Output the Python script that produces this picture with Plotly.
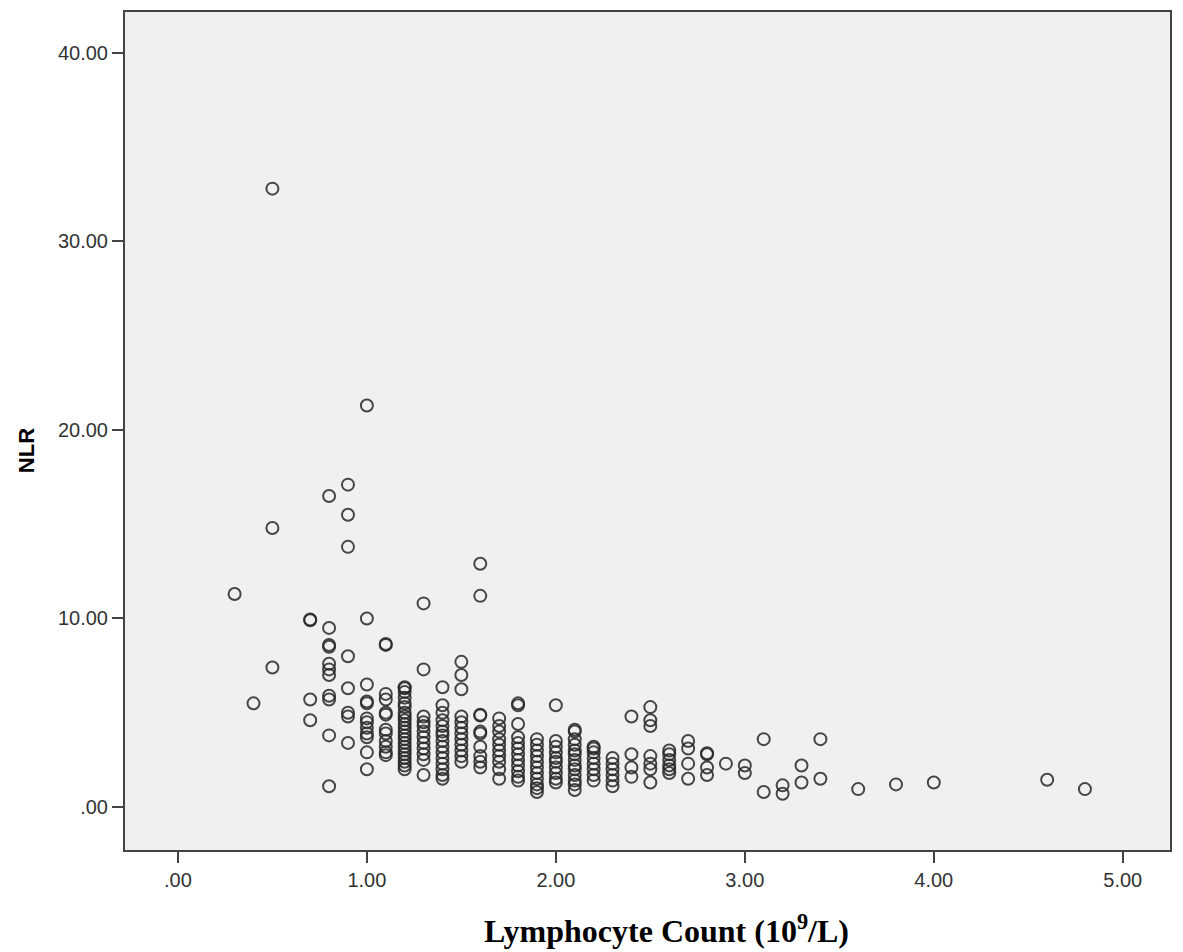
import plotly.graph_objects as go

# Lymphocyte count (10^9/L) and neutrophil-to-lymphocyte ratio, paired per patient
lymphocyte = (
    [0.3]
    + [0.4]
    + [0.5] * 3
    + [0.7] * 4
    + [0.8] * 11
    + [0.9] * 8
    + [1.0] * 12
    + [1.1] * 12
    + [1.2] * 22
    + [1.3] * 12
    + [1.4] * 15
    + [1.5] * 12
    + [1.6] * 10
    + [1.7] * 10
    + [1.8] * 12
    + [1.9] * 11
    + [2.0] * 10
    + [2.1] * 13
    + [2.2] * 8
    + [2.3] * 6
    + [2.4] * 4
    + [2.5] * 7
    + [2.6] * 6
    + [2.7] * 4
    + [2.8] * 4
    + [2.9]
    + [3.0] * 2
    + [3.1] * 2
    + [3.2] * 2
    + [3.3] * 2
    + [3.4] * 2
    + [3.6, 3.8, 4.0, 4.6, 4.8]
)

nlr = [
    11.3,
    5.5,
    32.8, 14.8, 7.4,
    9.95, 9.9, 5.7, 4.6,
    16.5, 9.5, 8.6, 8.5, 7.6, 7.3, 7.0, 5.9, 5.7, 3.8, 1.1,
    17.1, 15.5, 13.8, 8.0, 6.3, 5.0, 4.8, 3.4,
    21.3, 10.0, 6.5, 5.6, 5.5, 4.7, 4.5, 4.2, 3.9, 3.7, 2.9, 2.0,
    8.65, 8.6, 6.0, 5.7, 5.0, 4.9, 4.1, 3.9, 3.5, 3.2, 2.9, 2.75,
    6.35, 6.3, 6.1, 5.8, 5.5, 5.3, 5.0, 4.8, 4.6, 4.4, 4.2, 4.0, 3.8, 3.6, 3.4,
    3.2, 3.0, 2.8, 2.6, 2.4, 2.2, 2.0,
    10.8, 7.3, 4.8, 4.5, 4.3, 4.0, 3.7, 3.4, 3.1, 2.8, 2.5, 1.7,
    6.35, 5.4, 5.0, 4.6, 4.3, 4.0, 3.8, 3.5, 3.2, 2.9, 2.6, 2.3, 2.0, 1.7, 1.5,
    7.7, 7.0, 6.25, 4.8, 4.5, 4.2, 3.9, 3.6, 3.3, 3.0, 2.7, 2.4,
    12.9, 11.2, 4.9, 4.85, 4.0, 3.9, 3.2, 2.7, 2.4, 2.1,
    4.7, 4.3, 4.0, 3.6, 3.3, 3.0, 2.7, 2.4, 2.0, 1.5,
    5.5, 5.4, 4.4, 3.7, 3.4, 3.1, 2.8, 2.5, 2.2, 1.9, 1.6, 1.4,
    3.6, 3.3, 3.0, 2.7, 2.4, 2.1, 1.8, 1.5, 1.2, 1.0, 0.8,
    5.4, 3.5, 3.2, 2.9, 2.6, 2.4, 2.1, 1.8, 1.5, 1.3,
    4.1, 4.0, 3.6, 3.3, 3.0, 2.8, 2.5, 2.2, 2.0, 1.7, 1.4, 1.2, 0.9,
    3.2, 3.1, 2.9, 2.6, 2.3, 2.0, 1.7, 1.4,
    2.6, 2.3, 2.0, 1.7, 1.4, 1.1,
    4.8, 2.8, 2.1, 1.6,
    5.3, 4.6, 4.3, 2.7, 2.3, 2.0, 1.3,
    3.0, 2.8, 2.5, 2.2, 2.0, 1.8,
    3.5, 3.1, 2.3, 1.5,
    2.85, 2.8, 2.1, 1.7,
    2.3,
    2.2, 1.8,
    3.6, 0.8,
    1.15, 0.7,
    2.2, 1.3,
    3.6, 1.5,
    0.95, 1.2, 1.3, 1.45, 0.95,
]

x_ticks = [0, 1, 2, 3, 4, 5]
x_tick_text = [".00", "1.00", "2.00", "3.00", "4.00", "5.00"]
y_ticks = [0, 10, 20, 30, 40]
y_tick_text = [".00", "10.00", "20.00", "30.00", "40.00"]

fig = go.Figure(
    go.Scatter(
        x=lymphocyte,
        y=nlr,
        mode="markers",
        marker=dict(
            symbol="circle-open",
            size=12,
            color="rgba(40,40,40,0.85)",
            line=dict(width=2),
        ),
        hoverinfo="x+y",
    )
)

axis_common = dict(
    showgrid=False,
    zeroline=False,
    showline=True,
    linecolor="#444444",
    linewidth=2,
    mirror=True,
    ticks="outside",
    ticklen=11,
    tickwidth=2,
    tickcolor="#444444",
    tickfont=dict(family="Arial, Liberation Sans, sans-serif", size=20, color="#333333"),
)

fig.update_layout(
    width=1183,
    height=952,
    margin=dict(l=125, r=13, t=10, b=102),
    paper_bgcolor="white",
    plot_bgcolor="#f0f0f0",
    showlegend=False,
    xaxis=dict(
        range=[-0.28, 5.25],
        tickvals=x_ticks,
        ticktext=x_tick_text,
        **axis_common,
    ),
    yaxis=dict(
        range=[-2.28, 42.17],
        tickvals=y_ticks,
        ticktext=y_tick_text,
        **axis_common,
    ),
    annotations=[
        dict(
            text="<b>Lymphocyte Count (10<sup>9</sup>/L)</b>",
            xref="paper",
            yref="paper",
            x=0.518,
            y=-0.094,
            xanchor="center",
            yanchor="middle",
            showarrow=False,
            font=dict(family="Liberation Serif, Times New Roman, serif", size=32, color="black"),
        ),
        dict(
            text="<b>NLR</b>",
            xref="paper",
            yref="paper",
            x=-0.0947,
            y=0.476,
            xanchor="center",
            yanchor="middle",
            textangle=-90,
            showarrow=False,
            font=dict(family="Arial, Liberation Sans, sans-serif", size=22, color="black"),
        ),
    ],
)

fig.write_html("out.html")
